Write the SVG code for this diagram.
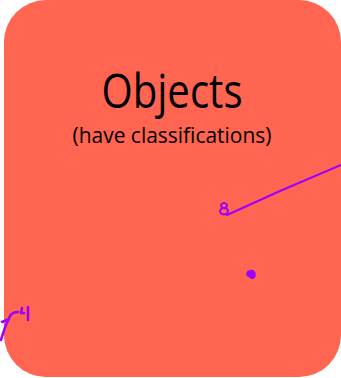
<svg xmlns="http://www.w3.org/2000/svg" width="341" height="378" viewBox="0 0 341 378">
<style>
.node{fill:#ff6550;}
.t{font-family:"Open Sans","Liberation Sans",sans-serif;fill:#000;text-anchor:middle;}
.ink{fill:none;stroke:#9b00ff;stroke-width:2;stroke-linecap:round;stroke-linejoin:round;}
.dot{fill:#9b00ff;stroke:#9b00ff;stroke-width:1.5;}
</style>
<g id="objects">
<rect class="node" x="4" y="0" width="337" height="377" rx="42" ry="42"/>
<text class="t" x="172" y="108" font-size="48" textLength="141" lengthAdjust="spacingAndGlyphs">Objects</text>
<text class="t" x="172" y="143" font-size="22" textLength="199" lengthAdjust="spacingAndGlyphs">(have classifications)</text>
</g>
<g id="connectors">
<path class="ink" d="M227,215 L280,191 L341,165"/>
<path class="ink" d="M224,208 a3,2.5 0 1 1 0.1,0 M224,208 a4,3.2 0 1 0 0.1,0"/>
<path class="dot" d="M247,275 a4,4 0 1 1 5,3.5 z"/>
<path class="ink" style="stroke-width:2.5" d="M1,340 C3,332 7,322 10,316 M2,322 L9,319 M10,316 C12,313 15,312 18,312 M22,308 L21,313 L24,313 M28,307 L28,320"/>
</g>
</svg>
